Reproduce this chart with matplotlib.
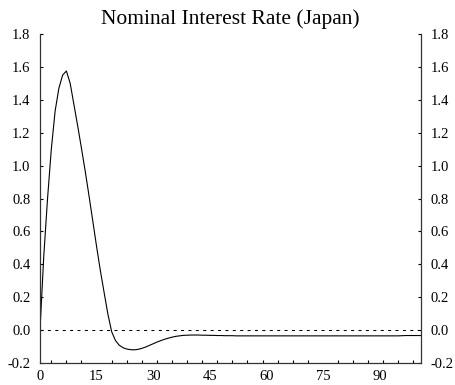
import matplotlib
matplotlib.use("Agg")
import matplotlib.pyplot as plt

plt.rcParams['font.family'] = ['Liberation Serif', 'DejaVu Serif']

# Impulse response of the nominal interest rate, one value per period
response = [
    0.000, 0.450, 0.800, 1.100, 1.330, 1.470, 1.550, 1.575, 1.500, 1.370,
    1.240, 1.104, 0.964, 0.815, 0.662, 0.508, 0.362, 0.228, 0.097, -0.010,
    -0.063, -0.092, -0.107, -0.115, -0.119, -0.120, -0.117, -0.111, -0.103, -0.093,
    -0.083, -0.073, -0.064, -0.056, -0.049, -0.043, -0.038, -0.035, -0.032, -0.031,
    -0.030, -0.030, -0.030, -0.031, -0.031, -0.032, -0.032, -0.033, -0.033, -0.034,
    -0.034, -0.034, -0.035, -0.035, -0.035, -0.035, -0.035, -0.035, -0.035, -0.035,
    -0.035, -0.035, -0.035, -0.035, -0.035, -0.035, -0.035, -0.035, -0.035, -0.035,
    -0.035, -0.035, -0.035, -0.035, -0.035, -0.035, -0.035, -0.035, -0.035, -0.035,
    -0.035, -0.035, -0.035, -0.035, -0.035, -0.035, -0.035, -0.035, -0.035, -0.035,
    -0.035, -0.035, -0.035, -0.035, -0.035, -0.035, -0.034, -0.033, -0.033, -0.033,
    -0.033, -0.033,
]
periods = list(range(len(response)))

title = "Nominal Interest Rate (Japan)"
x_labels = [0, 15, 30, 45, 60, 75, 90]
x_minor = list(range(3, 100, 4))
y_ticks = [-0.2, 0.0, 0.2, 0.4, 0.6, 0.8, 1.0, 1.2, 1.4, 1.6, 1.8]

fig = plt.figure(figsize=(4.56, 3.85), dpi=100)
ax = fig.add_axes([40 / 456, 22 / 385, (421 - 40) / 456, (363 - 34) / 385])

ax.plot(periods, response, color='black', lw=0.8)
ax.axhline(0.0, color='black', lw=0.75, linestyle=(0, (2.9, 4.2)))

ax.set_xlim(0, periods[-1])
ax.set_ylim(-0.2, 1.8)

ax.spines['top'].set_visible(False)
for s in ('left', 'right', 'bottom'):
    ax.spines[s].set_linewidth(0.9)
    ax.spines[s].set_color('#333333')

ax.set_xticks(x_labels)
ax.set_xticklabels([str(v) for v in x_labels])
ax.set_xticks(x_minor, minor=True)
ax.tick_params(axis='x', which='major', length=0, pad=5, labelsize=10.5)
ax.tick_params(axis='x', which='minor', direction='in', length=2.5, width=0.8)

ax.set_yticks(y_ticks)
ax.set_yticklabels([f"{v:.1f}" for v in y_ticks])
ax.tick_params(axis='y', which='major', direction='in', length=2, width=0.8,
               left=True, right=True, labelleft=True, labelright=True,
               labelsize=10.5, pad=7)

ax.set_title(title, fontsize=15.5, pad=7)

fig.savefig("out.png", dpi=100)
